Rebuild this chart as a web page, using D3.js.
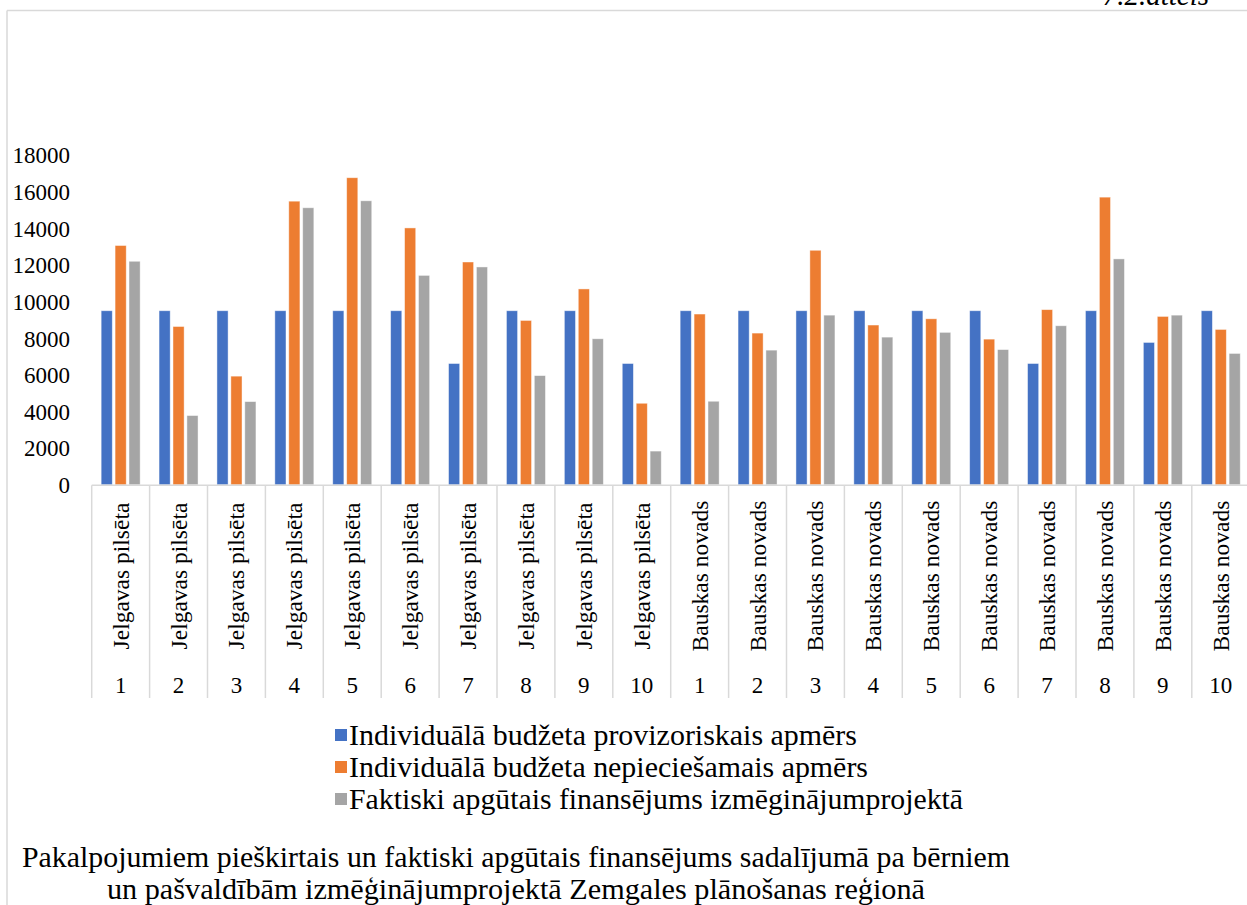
<!DOCTYPE html>
<html><head><meta charset="utf-8">
<script src="https://cdn.jsdelivr.net/npm/d3@7"></script>
<style>
html,body{margin:0;padding:0;background:#fff;overflow:hidden}
svg text{font-family:"Liberation Serif","Times New Roman",Times,serif;}
</style>
</head><body>
<svg id="c" width="1247" height="905"></svg>
<script>
const municipalities = ["Jelgavas pilsēta","Jelgavas pilsēta","Jelgavas pilsēta","Jelgavas pilsēta","Jelgavas pilsēta","Jelgavas pilsēta","Jelgavas pilsēta","Jelgavas pilsēta","Jelgavas pilsēta","Jelgavas pilsēta",
  "Bauskas novads","Bauskas novads","Bauskas novads","Bauskas novads","Bauskas novads","Bauskas novads","Bauskas novads","Bauskas novads","Bauskas novads","Bauskas novads"];
const childNumbers = ["1","2","3","4","5","6","7","8","9","10","1","2","3","4","5","6","7","8","9","10"];
const seriesNames = ["Individuālā budžeta provizoriskais apmērs","Individuālā budžeta nepieciešamais apmērs","Faktiski apgūtais finansējums izmēginājumprojektā"];
const provisional = [9500,9500,9500,9500,9500,9500,6620,9500,9500,6620, 9500,9500,9500,9500,9500,9500,6620,9500,7770,9500];
const required = [13060,8640,5930,15480,16760,14020,12160,8970,10690,4450, 9320,8280,12800,8720,9060,7950,9560,15700,9190,8480];
const actual = [12200,3780,4540,15120,15500,11430,11890,5960,7970,1840, 4560,7350,9260,8060,8320,7380,8680,12330,9260,7170];
const yTicks = [0,2000,4000,6000,8000,10000,12000,14000,16000,18000];
const figureLabel = "7.2.attēls";
const captionLines = ["Pakalpojumiem pieškirtais un faktiski apgūtais finansējums sadalījumā pa bērniem","un pašvaldībām izmēģinājumprojektā Zemgales plānošanas reģionā"];
const colors = ["#4472C4","#ED7D31","#A5A5A5"];

const svg = d3.select("#c");
const gridCol = "#d9d9d9";

// frame
svg.append("line").attr("x1",7).attr("x2",1247).attr("y1",10.5).attr("y2",10.5).attr("stroke",gridCol).attr("stroke-width",1.5);
svg.append("line").attr("x1",7).attr("x2",7).attr("y1",10.5).attr("y2",905).attr("stroke",gridCol).attr("stroke-width",1.5);

svg.append("text").attr("x",1209).attr("y",5).attr("text-anchor","end").attr("font-style","italic").attr("font-size",29).text(figureLabel);

const idx = d3.range(municipalities.length);
const x0 = d3.scaleBand().domain(idx).range([91.7, 91.7 + 57.9*20]).padding(0);
const x1 = d3.scaleBand().domain([0,1,2]).range([(57.9-39)/2, (57.9+39)/2]).paddingInner(0.2);
const y = d3.scaleLinear().domain([0,18000]).range([484.8, 155]);

// y axis labels
const yAxis = d3.axisLeft(y).tickValues(yTicks).tickSize(0).tickPadding(0).tickFormat(d3.format("d"));
const ga = svg.append("g").attr("transform","translate(70,0)").call(yAxis);
ga.attr("font-family",null);
ga.select(".domain").remove();
ga.selectAll("text").attr("font-size",23).attr("fill","#000").attr("dy","0.34em");

// bars
const seriesData = [provisional, required, actual];
seriesData.forEach((vals,s)=>{
  svg.append("g").selectAll("rect").data(vals).join("rect")
    .attr("x",(d,i)=>x0(i)+x1(s))
    .attr("width",x1.bandwidth())
    .attr("y",d=>y(d))
    .attr("height",d=>y(0)-y(d))
    .attr("fill",colors[s])
    .attr("stroke","#ffffff").attr("stroke-opacity",0.55).attr("stroke-width",0.8);
});

// x axis
svg.append("line").attr("x1",91.7).attr("x2",1247).attr("y1",485.3).attr("y2",485.3).attr("stroke",gridCol).attr("stroke-width",1.5);
const bounds = d3.range(municipalities.length+1).map(i=> i<municipalities.length ? x0(i) : x0(i-1)+x0.bandwidth());
svg.append("g").selectAll("line").data(bounds).join("line")
  .attr("x1",d=>d).attr("x2",d=>d).attr("y1",485.3).attr("y2",698)
  .attr("stroke",gridCol).attr("stroke-width",1.5);

svg.append("g").selectAll("text").data(municipalities).join("text")
  .attr("transform",(d,i)=>`translate(${x0(i)+x0.bandwidth()/2+8},576) rotate(-90)`)
  .attr("text-anchor","middle").attr("font-size",23.5).text(d=>d);

svg.append("g").selectAll("text").data(childNumbers).join("text")
  .attr("x",(d,i)=>x0(i)+x0.bandwidth()/2).attr("y",693)
  .attr("text-anchor","middle").attr("font-size",23).text(d=>d);

// legend
const legendWidths = [508,519,614];
const lg = svg.append("g");
seriesNames.forEach((n,s)=>{
  const cy = 735 + s*32;
  lg.append("rect").attr("x",335).attr("y",cy-6).attr("width",12).attr("height",12).attr("fill",colors[s]);
  lg.append("text").attr("x",349).attr("y",cy).attr("dy","0.35em").attr("font-size",29)
    .attr("textLength",legendWidths[s]).attr("lengthAdjust","spacingAndGlyphs").text(n);
});

// caption
svg.append("text").attr("x",22).attr("y",867).attr("font-size",28.5).attr("textLength",988).attr("lengthAdjust","spacingAndGlyphs").text(captionLines[0]);
svg.append("text").attr("x",107).attr("y",899).attr("font-size",28.5).attr("textLength",818).attr("lengthAdjust","spacingAndGlyphs").text(captionLines[1]);
</script>
</body></html>
